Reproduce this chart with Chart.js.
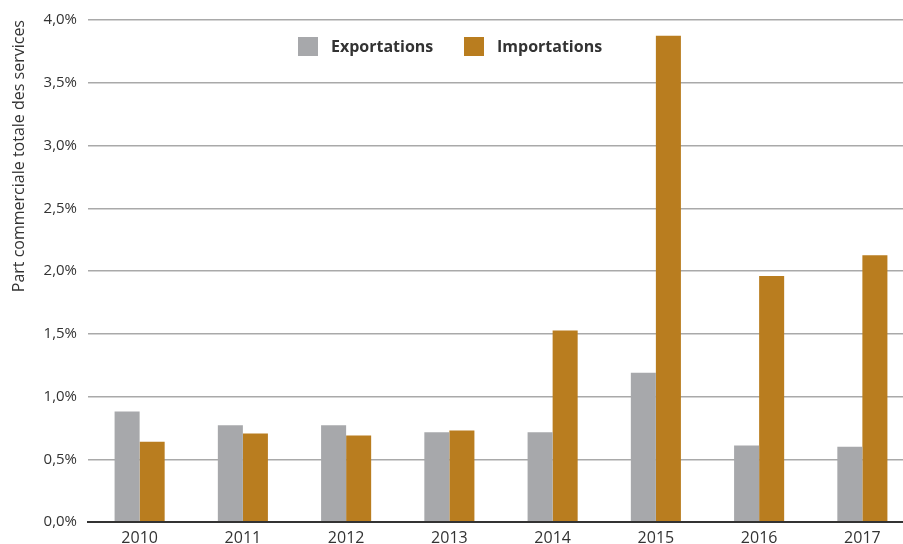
<!DOCTYPE html>
<html>
<head>
<meta charset="utf-8">
<script src="https://cdn.jsdelivr.net/npm/chart.js@4/dist/chart.umd.min.js"></script>
<style>
  html, body { margin: 0; padding: 0; background: #fff; overflow: hidden; }
  /* plot runs slightly past the right edge, as in the original figure */
  #wrap { width: 914px; height: 544px; }
</style>
</head>
<body>
<div id="wrap"><canvas id="tradeChart"></canvas></div>
<script>
const years = ['2010', '2011', '2012', '2013', '2014', '2015', '2016', '2017'];
const exportations = [0.88, 0.77, 0.77, 0.715, 0.715, 1.19, 0.61, 0.60];
const importations = [0.64, 0.705, 0.69, 0.73, 1.525, 3.875, 1.96, 2.125];
const yTicks = [0, 0.5, 1.0, 1.5, 2.0, 2.5, 3.0, 3.5, 4.0];

const textColor = '#333333';
const fontFamily = '"Open Sans", "Noto Sans", sans-serif';

// legend drawn inside the plot, above the bars
const insideLegend = {
    id: 'insideLegend',
    afterDraw(chart) {
        const ctx = chart.ctx;
        let x = 298;
        const y = 37;
        ctx.save();
        ctx.font = 'bold 16px ' + fontFamily;
        ctx.textBaseline = 'middle';
        chart.data.datasets.forEach(ds => {
            ctx.fillStyle = ds.backgroundColor;
            ctx.fillRect(x, y, 20, 19);
            ctx.fillStyle = textColor;
            ctx.fillText(ds.label, x + 33, y + 10);
            x += 166;
        });
        ctx.restore();
    }
};

const ctx = document.getElementById('tradeChart').getContext('2d');
new Chart(ctx, {
    type: 'bar',
    data: {
        labels: years,
        datasets: [
            { label: 'Exportations', data: exportations, backgroundColor: '#a7a8ab' },
            { label: 'Importations', data: importations, backgroundColor: '#b97d1f' }
        ]
    },
    options: {
        responsive: true,
        maintainAspectRatio: false,
        animation: false,
        layout: { padding: { top: 18, right: 0, bottom: 0, left: 0 } },
        datasets: { bar: { categoryPercentage: 0.485, barPercentage: 1.0 } },
        plugins: {
            legend: { display: false },
            tooltip: { enabled: false }
        },
        scales: {
            x: {
                grid: { display: false, drawTicks: false },
                border: { display: true, color: '#333333', width: 2 },
                ticks: { color: textColor, font: { family: fontFamily, size: 16 }, padding: 7 },
                afterFit: scale => { scale.height = 22; }
            },
            y: {
                min: 0,
                max: 4,
                afterBuildTicks: scale => { scale.ticks = yTicks.map(v => ({ value: v })); },
                grid: {
                    color: c => c.tick && c.tick.value === 0 ? '#333333' : '#a9a9a9',
                    lineWidth: c => c.tick && c.tick.value === 0 ? 2 : 1.5,
                    drawTicks: false
                },
                border: { display: false },
                ticks: {
                    color: textColor,
                    font: { family: fontFamily, size: 15 },
                    padding: 11,
                    callback: v => v.toFixed(1).replace('.', ',') + '%'
                },
                title: {
                    display: true,
                    align: 'end',
                    text: 'Part commerciale totale des services',
                    color: textColor,
                    font: { family: fontFamily, size: 16 },
                    padding: { top: 10, bottom: 0 }
                },
                afterFit: scale => { scale.width = 88; }
            }
        }
    },
    plugins: [insideLegend]
});
</script>
</body>
</html>
